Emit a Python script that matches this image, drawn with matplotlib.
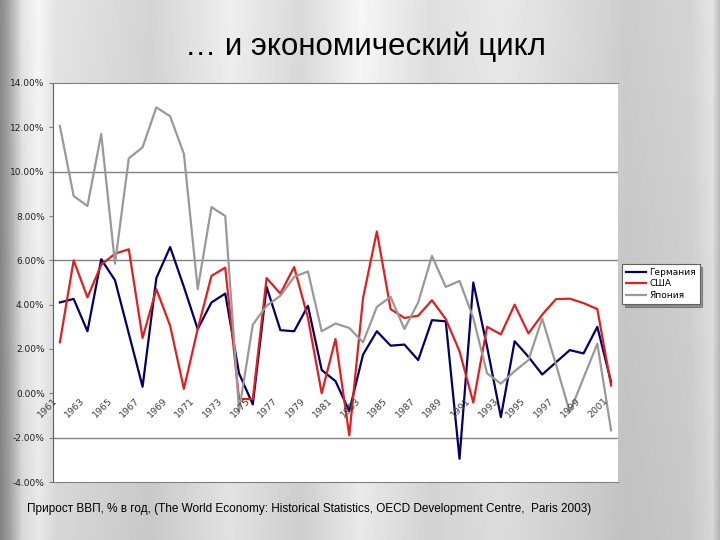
import numpy as np
import matplotlib.pyplot as plt

# годы и прирост ВВП, % в год
years = list(range(1961, 2002))
germany = [4.1, 4.26, 2.8, 6.05, 5.1, 2.7, 0.3, 5.2, 6.6, 4.8,
           2.9, 4.1, 4.5, 0.9, -0.5, 4.8, 2.85, 2.8, 3.95, 1.05,
           0.55, -0.8, 1.75, 2.8, 2.15, 2.2, 1.5, 3.3, 3.25, -2.95,
           5.0, 2.1, -1.07, 2.35, 1.65, 0.85, 1.4, 1.95, 1.8, 3.0, 0.5]
usa = [2.3, 6.0, 4.33, 5.8, 6.3, 6.5, 2.5, 4.7, 3.05, 0.2,
       2.9, 5.3, 5.67, -0.26, -0.26, 5.2, 4.5, 5.7, 3.4, 0.0,
       2.45, -1.9, 4.3, 7.3, 3.8, 3.4, 3.5, 4.2, 3.35, 1.9,
       -0.42, 3.0, 2.66, 4.0, 2.7, 3.55, 4.25, 4.27, 4.07, 3.8, 0.35]
japan = [12.06, 8.9, 8.45, 11.7, 5.85, 10.6, 11.1, 12.9, 12.5, 10.8,
         4.7, 8.4, 8.0, -0.8, 3.1, 3.95, 4.4, 5.25, 5.5, 2.8,
         3.15, 2.95, 2.3, 3.9, 4.35, 2.9, 4.1, 6.2, 4.8, 5.07,
         3.4, 0.9, 0.44, 1.0, 1.5, 3.37, 1.3, -0.85, 0.7, 2.24, -1.67]
series_names = ['Германия', 'США', 'Япония']
series_colors = ['#000066', '#e02020', '#999999']
ytick_values = [14, 12, 10, 8, 6, 4, 2, 0, -2, -4]
ytick_labels = ['%.2f%%' % v for v in ytick_values]
grid_values = [10, 6, -2]

title = '… и экономический цикл'
caption = ('Прирост ВВП, % в год, (The World Economy: Historical Statistics, '
           'OECD Development Centre,  Paris 2003)')

fig = plt.figure(figsize=(7.2, 5.4), dpi=100)

# фон слайда - серый с полосами
bg = fig.add_axes([0, 0, 1, 1], zorder=0)
px = np.arange(720)
prof = np.interp(px, [0, 8, 22, 38, 55, 150, 230, 300, 360, 430, 500, 600, 625, 690, 712, 720],
                 [0.52, 0.62, 0.86, 0.93, 0.86, 0.80, 0.90, 0.82, 0.93, 0.84, 0.88, 0.80, 0.77, 0.80, 0.86, 0.70])
py = np.linspace(1.04, 0.98, 540)
img = np.clip(py[:, None] * prof[None, :], 0, 1)
bg.imshow(img, cmap='gray', vmin=0, vmax=1, aspect='auto', extent=[0, 1, 0, 1])
bg.set_xlim(0, 1)
bg.set_ylim(0, 1)
bg.axis('off')

ax = fig.add_axes([53 / 720, 1 - 482 / 540, 565 / 720, 399 / 540], zorder=2)
ax.set_facecolor('white')
x = np.arange(len(years))
lines = []
for vals, name, col in zip([germany, usa, japan], series_names, series_colors):
    ln, = ax.plot(x, vals, color=col, lw=1.6, label=name)
    lines.append(ln)

ax.set_xlim(-0.5, len(years) - 0.5)
ax.set_ylim(-4, 14)
for g in grid_values:
    ax.axhline(g, color='#808080', lw=1, zorder=0)
ax.set_yticks(ytick_values)
ax.set_yticklabels(ytick_labels, fontsize=6.5, color='#202020')
ax.tick_params(axis='y', length=3, color='#808080', pad=3)
ax.set_xticks([])
for sp in ['top', 'bottom']:
    ax.spines[sp].set_color('#808080')
ax.spines['left'].set_color('#606060')
ax.spines['right'].set_visible(False)

# подписи лет у нулевой линии
for i in range(0, len(years), 2):
    ax.text(i - 0.3, -0.25, str(years[i]), rotation=45, ha='right', va='center',
            rotation_mode='anchor', fontsize=6.8, color='#404040')

leg = fig.legend(handles=lines, loc='center', bbox_to_anchor=(661 / 720, 1 - 284 / 540),
                 fontsize=6.5, frameon=True, fancybox=False, shadow=True,
                 handlelength=2.2, borderpad=0.4, labelspacing=0.3, handletextpad=0.4)
leg.get_frame().set_edgecolor('#606060')
leg.get_frame().set_linewidth(0.8)
leg.set_zorder(5)

fig.text(365 / 720, 1 - 47 / 540, title, ha='center', va='center',
         fontsize=22.5, family='Liberation Sans', color='black')
fig.text(27 / 720, 1 - 509 / 540, caption, ha='left', va='center',
         fontsize=8.5, family='Liberation Sans', color='black')

fig.savefig('out.png', dpi=100)
